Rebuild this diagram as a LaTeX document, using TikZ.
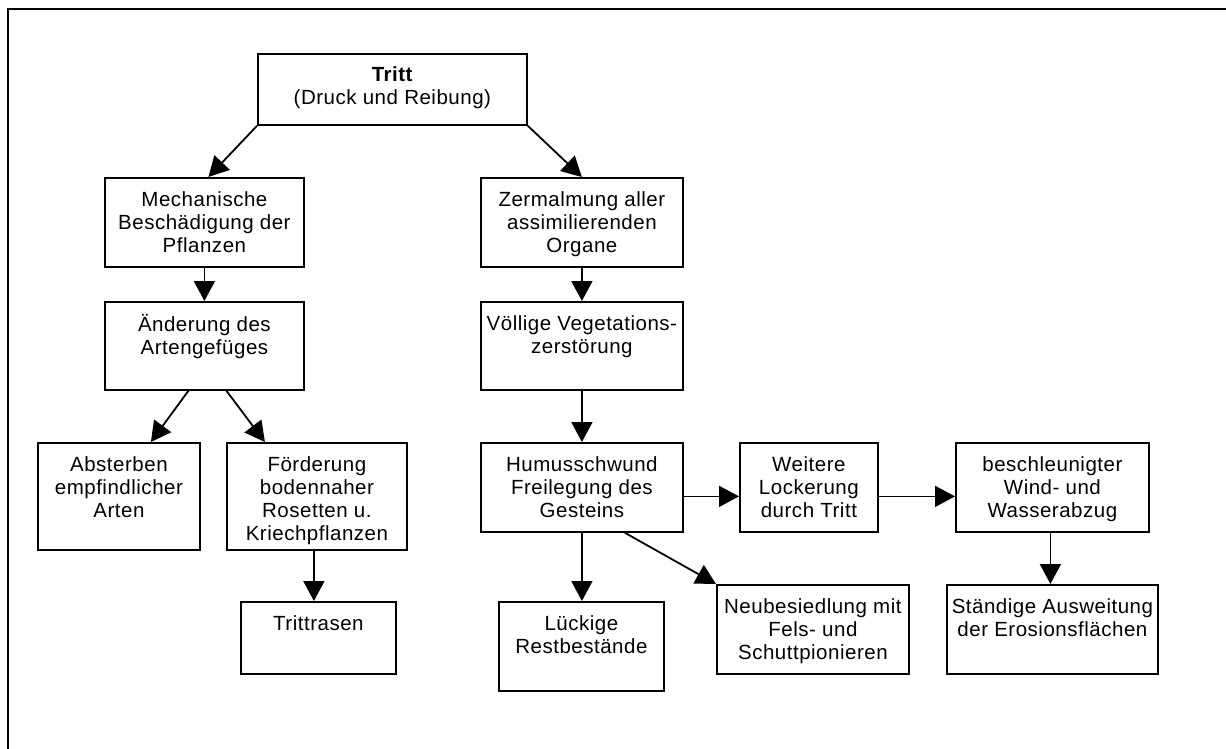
\documentclass[tikz,border=0pt]{standalone}
\usepackage{fontspec}
\setmainfont[LetterSpace=2.5]{Liberation Sans}
\usetikzlibrary{arrows.meta,calc}
\newcommand{\bt}[3]{\parbox[c][#2pt][t]{#1pt}{\centering\vspace*{12pt}\strut #3}}
\begin{document}
\begin{tikzpicture}[x=1pt,y=-1pt,
  box/.style={draw, line width=1.8pt, inner sep=0pt, anchor=north west,
    font=\fontsize{20.5}{23}\selectfont},
  arr/.style={-{Triangle[length=20pt,width=21pt]}, line width=1.8pt}]
\useasboundingbox (0,0) rectangle (1226,749);
\draw[line width=2.6pt] (8,749) -- (8,9) -- (1226,9);
\node[box] (tritt) at (257,53) {\bt{269}{71}{\textbf{Tritt}\\(Druck und Reibung)}};
\node[box] (mech) at (104,177) {\bt{199}{89}{Mechanische\\Beschädigung der\\Pflanzen}};
\node[box] (aend) at (104,301) {\bt{199}{88}{Änderung des\\Artengefüges}};
\node[box] (abst) at (37,442) {\bt{162}{107}{Absterben\\empfindlicher\\Arten}};
\node[box] (foerd) at (226,442) {\bt{180}{107}{Förderung\\bodennaher\\Rosetten u.\\Kriechpflanzen}};
\node[box] (tritr) at (240,601) {\bt{155}{72}{Trittrasen}};
\node[box] (zerm) at (480,177) {\bt{202}{89}{Zermalmung aller\\assimilierenden\\Organe}};
\node[box] (voell) at (480,301) {\bt{202}{88}{Völlige Vegetations-\\zerstörung}};
\node[box] (humus) at (480,442) {\bt{202}{89}{Humusschwund\\Freilegung des\\Gesteins}};
\node[box] (weit) at (739,442) {\bt{138}{89}{Weitere\\Lockerung\\durch Tritt}};
\node[box] (beschl) at (955,442) {\bt{193}{89}{beschleunigter\\Wind- und\\Wasserabzug}};
\node[box] (lueck) at (498,601) {\bt{165}{89}{Lückige\\Restbestände}};
\node[box] (neub) at (716,584) {\bt{192}{89}{Neubesiedlung mit\\Fels- und\\Schuttpionieren}};
\node[box] (staend) at (946,584) {\bt{211}{89}{Ständige Ausweitung\\der Erosionsflächen}};
\draw[arr] (tritt.south west) -- ([xshift=4pt]mech.north);
\draw[arr] (tritt.south east) -- (zerm.north);
\draw[arr] (mech.south) -- (aend.north);
\draw[arr] ([xshift=-16pt]aend.south) -- ([xshift=32pt]abst.north);
\draw[arr] ([xshift=22pt]aend.south) -- ([xshift=-52pt]foerd.north);
\draw[arr] ([xshift=-3pt]foerd.south) -- ([xshift=-3pt]foerd.south |- tritr.north);
\draw[arr] (zerm.south) -- (voell.north);
\draw[arr] (voell.south) -- (humus.north);
\draw[arr] (humus.south) -- (humus.south |- lueck.north);
\draw[arr] ([xshift=43pt]humus.south) -- (neub.north west);
\draw[arr] ([yshift=-9pt]humus.east) -- ([yshift=-9pt]humus.east -| weit.west);
\draw[arr] ([yshift=-9pt]weit.east) -- ([yshift=-9pt]weit.east -| beschl.west);
\draw[arr] ([xshift=-2pt]beschl.south) -- ([xshift=-2pt]beschl.south |- staend.north);
\end{tikzpicture}
\end{document}
